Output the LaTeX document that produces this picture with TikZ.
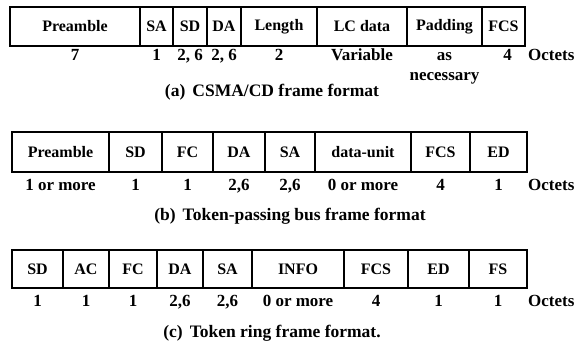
\documentclass[tikz,border=0pt]{standalone}
\usepackage{fontspec}
\setmainfont{Liberation Serif}
\usepackage{tikz}
\usetikzlibrary{positioning}

\begin{document}
\begin{tikzpicture}[
    x=1pt, y=1pt,
    node distance=0pt and 0pt,
    field/.style={draw, line width=1.4pt, outer sep=0pt, inner sep=1pt,
                  font=\fontsize{16}{18}\selectfont\bfseries},
    fa/.style={field, minimum height=39pt},
    fb/.style={field, minimum height=40pt},
    fc/.style={field, minimum height=38pt},
    num/.style={inner sep=0pt, text height=11pt, text depth=3pt,
                font=\fontsize{17}{19}\selectfont\bfseries},
    caption/.style={inner sep=0pt, font=\fontsize{17.5}{20}\selectfont\bfseries}
]
    \useasboundingbox (0,0) rectangle (587,-349);

    % (a) CSMA/CD
    \node[fa, minimum width=130pt, anchor=west] (aPre) at (10,-26.5) {Preamble};
    \node[fa, minimum width=33pt, right=of aPre] (aSA)  {SA};
    \node[fa, minimum width=34pt, right=of aSA]  (aSD)  {SD};
    \node[fa, minimum width=34pt, right=of aSD]  (aDA)  {DA};
    \node[fa, minimum width=76pt, right=of aDA]  (aLen) {Length};
    \node[fa, minimum width=90pt, right=of aLen] (aLC)  {LC data};
    \node[fa, minimum width=75pt, right=of aLC]  (aPad) {Padding};
    \node[fa, minimum width=43pt, right=of aPad] (aFCS) {FCS};

    \node[num, below=3pt of aPre] (aPreN) {7};
    \node[num, below=3pt of aSA]  (aSAN)  {1};
    \node[num, below=3pt of aSD]  (aSDN)  {2, 6};
    \node[num, below=3pt of aDA]  (aDAN)  {2, 6};
    \node[num, below=3pt of aLen] (aLenN) {2};
    \node[num, below=3pt of aLC]  (aLCN)  {Variable};
    \node[num, below=3pt of aPad] (aPadN) {as};
    \node[num, below=6pt of aPadN] (aPadM) {necessary};
    \node[num, below=3pt of aFCS, xshift=4pt] (aFCSN) {4};
    \node[num, anchor=north west] (aOct) at ([xshift=3pt,yshift=-3pt]aFCS.south east) {Octets};
    \node[caption] (aCap) at (272,-92) {(a)\hspace{7pt}CSMA/CD frame format};

    % (b) token-passing bus
    \node[fb, minimum width=97pt, anchor=west] (bPre) at (12,-152) {Preamble};
    \node[fb, minimum width=53pt, right=of bPre] (bSD)  {SD};
    \node[fb, minimum width=51pt, right=of bSD]  (bFC)  {FC};
    \node[fb, minimum width=52pt, right=of bFC]  (bDA)  {DA};
    \node[fb, minimum width=50pt, right=of bDA]  (bSA)  {SA};
    \node[fb, minimum width=96pt, right=of bSA]  (bDU)  {data-unit};
    \node[fb, minimum width=59pt, right=of bDU]  (bFCS) {FCS};
    \node[fb, minimum width=57pt, right=of bFCS] (bED)  {ED};

    \node[num, below=7pt of bPre] (bPreN) {1 or more};
    \node[num, below=7pt of bSD]  (bSDN)  {1};
    \node[num, below=7pt of bFC]  (bFCN)  {1};
    \node[num, below=7pt of bDA]  (bDAN)  {2,6};
    \node[num, below=7pt of bSA]  (bSAN)  {2,6};
    \node[num, below=7pt of bDU]  (bDUN)  {0 or more};
    \node[num, below=7pt of bFCS] (bFCSN) {4};
    \node[num, below=7pt of bED]  (bEDN)  {1};
    \node[num, anchor=north west] (bOct) at ([xshift=1pt,yshift=-7pt]bED.south east) {Octets};
    \node[caption] (bCap) at (290,-216) {(b)\hspace{7pt}Token-passing bus frame format};

    % (c) token ring
    \node[fc, minimum width=51pt, anchor=west] (cSD) at (12,-269) {SD};
    \node[fc, minimum width=46pt, right=of cSD]  (cAC)  {AC};
    \node[fc, minimum width=48pt, right=of cAC]  (cFC)  {FC};
    \node[fc, minimum width=46pt, right=of cFC]  (cDA)  {DA};
    \node[fc, minimum width=49pt, right=of cDA]  (cSA)  {SA};
    \node[fc, minimum width=92pt, right=of cSA]  (cINFO) {INFO};
    \node[fc, minimum width=64pt, right=of cINFO] (cFCS) {FCS};
    \node[fc, minimum width=61pt, right=of cFCS] (cED)  {ED};
    \node[fc, minimum width=58pt, right=of cED]  (cFS)  {FS};

    \node[num, below=7pt of cSD]   (cSDN)   {1};
    \node[num, below=7pt of cAC]   (cACN)   {1};
    \node[num, below=7pt of cFC]   (cFCN)   {1};
    \node[num, below=7pt of cDA]   (cDAN)   {2,6};
    \node[num, below=7pt of cSA]   (cSAN)   {2,6};
    \node[num, below=7pt of cINFO] (cINFON) {0 or more};
    \node[num, below=7pt of cFCS]  (cFCSN)  {4};
    \node[num, below=7pt of cED]   (cEDN)   {1};
    \node[num, below=7pt of cFS]   (cFSN)   {1};
    \node[num, anchor=north west] (cOct) at ([xshift=1pt,yshift=-7pt]cFS.south east) {Octets};
    \node[caption] (cCap) at (272,-333) {(c)\hspace{7pt}Token ring frame format.};
\end{tikzpicture}
\end{document}
